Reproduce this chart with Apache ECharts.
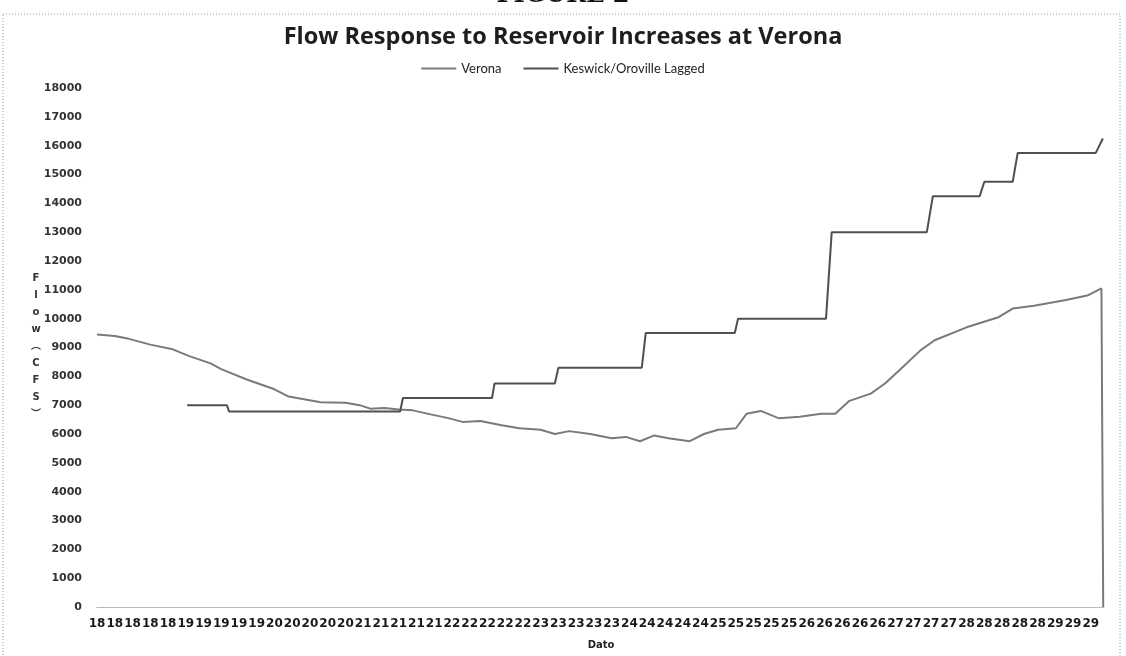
<!DOCTYPE html>
<html>
<head>
<meta charset="utf-8">
<title>Flow Response to Reservoir Increases at Verona</title>
<script src="https://cdn.jsdelivr.net/npm/echarts/dist/echarts.min.js"></script>
<style>
  html, body { margin: 0; padding: 0; background: #fff; }
  #chart { width: 1126px; height: 656px; }
</style>
</head>
<body>
<div id="chart"></div>
<script>
// x axis: one tick label every 5 hours (day of month)
const xLabels = [
  "18", "18", "18", "18", "18",
  "19", "19", "19", "19", "19",
  "20", "20", "20", "20", "20",
  "21", "21", "21", "21", "21",
  "22", "22", "22", "22", "22",
  "23", "23", "23", "23", "23",
  "24", "24", "24", "24", "24",
  "25", "25", "25", "25", "25",
  "26", "26", "26", "26", "26",
  "27", "27", "27", "27",
  "28", "28", "28", "28", "28",
  "29", "29", "29"
];

// Verona (hours from start, cfs)
const veronaHours = [0, 5, 9, 15, 21, 26, 32, 35, 42, 50, 54, 63, 70, 74, 77, 81, 85, 89, 94, 99,
  103, 108, 114, 119, 125, 129, 133, 139, 145, 149, 153, 157, 161, 167, 171, 175, 180, 183, 187, 192,
  198, 204, 208, 212, 218, 222, 226, 232, 236, 245, 254, 258, 264, 273, 279, 283, 283.5];
const veronaFlow = [9450, 9400, 9300, 9100, 8950, 8700, 8450, 8250, 7900, 7550, 7300, 7100, 7080, 7000, 6880, 6900, 6850, 6820, 6680, 6550,
  6420, 6450, 6300, 6200, 6150, 6000, 6100, 6000, 5850, 5900, 5750, 5950, 5850, 5750, 6000, 6150, 6200, 6700, 6800, 6550,
  6600, 6700, 6700, 7150, 7400, 7750, 8200, 8900, 9250, 9700, 10050, 10350, 10450, 10650, 10800, 11050, 0];

// Keswick/Oroville Lagged (hours from start, cfs)
const keswickHours = [25.4, 36.6, 37.2, 85.4, 86.2, 111.3, 112, 129, 130, 153.5, 154.6, 179.7, 180.6, 205.4, 207,
  233.8, 235.5, 248.7, 250, 258, 259.4, 281.4, 283.4];
const keswickFlow = [7000, 7000, 6780, 6780, 7250, 7250, 7750, 7750, 8300, 8300, 9500, 9500, 10000, 10000, 13000,
  13000, 14250, 14250, 14750, 14750, 15750, 15750, 16250];

const chartDom = document.getElementById("chart");
const myChart = echarts.init(chartDom);

const labelFont = "DejaVu Sans";

const option = {
  animation: false,
  backgroundColor: "#fff",
  title: {
    text: "Flow Response to Reservoir Increases at Verona",
    left: "center",
    top: 20,
    textStyle: {
      fontFamily: "Open Sans",
      fontWeight: "bold",
      fontSize: 23.5,
      color: "#1e1e1e"
    }
  },
  legend: {
    top: 57,
    left: "center",
    icon: "rect",
    itemWidth: 35,
    itemHeight: 2,
    itemGap: 22,
    textStyle: {
      fontFamily: "Lato",
      fontSize: 13,
      color: "#222"
    },
    data: ["Verona", "Keswick/Oroville Lagged"]
  },
  grid: {
    left: 97,
    right: 21,
    top: 88,
    bottom: 49
  },
  xAxis: {
    type: "value",
    min: 0,
    max: 284,
    interval: 5,
    name: "Dato",
    nameLocation: "middle",
    nameGap: 33,
    nameTextStyle: {
      fontFamily: labelFont,
      fontWeight: "bold",
      fontSize: 10,
      color: "#222"
    },
    axisLine: {
      lineStyle: { color: "#aaa", type: "dotted", width: 1 }
    },
    axisTick: { show: false },
    splitLine: { show: false },
    axisLabel: {
      margin: 11,
      fontFamily: labelFont,
      fontWeight: "bold",
      fontSize: 12,
      color: "#1a1a1a",
      formatter: function (value) {
        const i = value / 5;
        return Number.isInteger(i) && xLabels[i] ? xLabels[i] : "";
      }
    }
  },
  yAxis: {
    type: "value",
    min: 0,
    max: 18000,
    interval: 1000,
    axisLine: { show: false },
    axisTick: { show: false },
    splitLine: { show: false },
    axisLabel: {
      margin: 15,
      fontFamily: labelFont,
      fontWeight: "bold",
      fontSize: 11,
      color: "#333",
      // no thousands separator
      formatter: function (value) {
        return String(value);
      }
    }
  },
  graphic: [
    {
      // chart border of the scanned figure
      type: "rect",
      silent: true,
      shape: { x: 3, y: 14, width: 1117, height: 660 },
      style: { fill: null, stroke: "#9a9a9a", lineWidth: 1, lineDash: [1, 2] }
    },
    {
      // figure heading, cut off at the top of the scan
      type: "text",
      silent: true,
      style: {
        text: "FIGURE 2",
        x: 563,
        y: 8,
        textAlign: "center",
        textVerticalAlign: "bottom",
        font: "bold 24px 'DejaVu Serif'",
        fill: "#111"
      }
    },
    {
      // stacked y axis title
      type: "text",
      silent: true,
      style: {
        text: "F\nl\no\nw\n\uFE35\nC\nF\nS\n\uFE36",
        x: 36,
        y: 270,
        textAlign: "center",
        font: "bold 10px 'DejaVu Sans', 'Noto Sans CJK SC'",
        lineHeight: 17,
        fill: "#333"
      }
    }
  ],
  series: [
    {
      name: "Verona",
      type: "line",
      showSymbol: false,
      color: "#7a7a7a",
      lineStyle: { width: 2, color: "#7a7a7a" },
      data: veronaHours.map((h, i) => [h, veronaFlow[i]])
    },
    {
      name: "Keswick/Oroville Lagged",
      type: "line",
      showSymbol: false,
      color: "#505050",
      lineStyle: { width: 2, color: "#505050" },
      data: keswickHours.map((h, i) => [h, keswickFlow[i]])
    }
  ]
};

myChart.setOption(option);
</script>
</body>
</html>
